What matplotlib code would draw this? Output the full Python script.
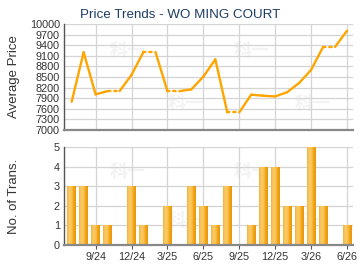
import numpy as np
import matplotlib
matplotlib.use('Agg')
import matplotlib.pyplot as plt
from matplotlib.colors import LinearSegmentedColormap

# monthly data, 7/24 .. 6/26
months = list(range(24))
price = [7800, 9200, 8010, 8100, 8100, 8560, 9210, 9210, 8100, 8100,
         8150, 8510, 9000, 7500, 7500, 8000, 7970, 7950, 8070, 8330,
         8700, 9350, 9350, 9810]
trans = [3, 3, 1, 1, 0, 3, 1, 0, 2, 0, 3, 2, 1, 3, 0, 1, 4, 4, 2, 2, 5, 2, 0, 1]
tick_pos = [2, 5, 8, 11, 14, 17, 20, 23]
tick_labels = ['9/24', '12/24', '3/25', '6/25', '9/25', '12/25', '3/26', '6/26']
price_ticks = list(range(7000, 10001, 300))

plt.rcParams['font.family'] = ['Liberation Sans', 'DejaVu Sans']
grid_c = '#d4d4d4'
txt_c = '#333333'
line_c = '#FFA500'

fig = plt.figure(figsize=(3.6, 2.7), dpi=100)
W, H = 360, 270
ax1 = fig.add_axes([64 / W, 1 - 130 / H, 289 / W, 106 / H])
ax2 = fig.add_axes([64 / W, 1 - 245 / H, 289 / W, 98 / H])
xlim = (-0.64, 23.5)

for ax in (ax1, ax2):
    ax.set_xlim(*xlim)
    for s in ('top', 'right'):
        ax.spines[s].set_visible(False)
    ax.spines['left'].set_color('#555555')
    ax.spines['left'].set_linewidth(1.0)
    ax.spines['bottom'].set_color('#888888')
    ax.spines['bottom'].set_linewidth(1.6)
    ax.set_xticks(tick_pos)
    ax.grid(True, color=grid_c, linewidth=0.9)
    ax.set_axisbelow(True)
    ax.tick_params(axis='y', length=0, pad=3, labelsize=7.8, labelcolor=txt_c)
    ax.tick_params(axis='x', length=3, width=0.8, color='#555555',
                   labelsize=7.8, labelcolor=txt_c, pad=2)

# watermark
for ax in (ax1, ax2):
    for fx, fy in ((0.22, 0.75), (0.65, 0.75), (0.42, 0.25), (0.86, 0.25)):
        ax.text(fx, fy, '科一', transform=ax.transAxes, fontsize=13,
                color='#f3f3f3', fontweight='bold', ha='center', va='center',
                family=['Noto Sans CJK SC'], zorder=0.5)

# price line
for i in range(len(months) - 1):
    ls = ':' if trans[i + 1] == 0 else '-'
    ax1.plot(months[i:i + 2], price[i:i + 2], color=line_c, linewidth=1.7,
             linestyle=ls, solid_capstyle='round', dash_capstyle='round', zorder=3)
ax1.set_ylim(7000, 10000)
ax1.set_yticks(price_ticks)
ax1.tick_params(axis='x', labelbottom=False, length=0)
ax1.set_ylabel('Average Price', fontsize=9.5, color=txt_c)
ax1.yaxis.set_label_coords(-44 / 289, 0.5)

# transactions
cmap = LinearSegmentedColormap.from_list(
    'bar', ['#F3B23A', '#FCCB66', '#FAC45A', '#F2A41A', '#E89800'])
grad = np.linspace(0, 1, 64).reshape(1, -1)
bars = ax2.bar(months, trans, width=0.75, color='#F7B840', edgecolor='none', zorder=2)
for b in bars:
    if b.get_height() == 0:
        continue
    im = ax2.imshow(grad, cmap=cmap, aspect='auto', zorder=2.5,
                    extent=[b.get_x(), b.get_x() + b.get_width(), 0, b.get_height()])
    im.set_clip_path(b)
ax2.set_xlim(*xlim)
ax2.set_ylim(0, 5)
ax2.set_yticks(range(6))
ax2.set_xticklabels(tick_labels)
ax2.set_ylabel('No. of Trans.', fontsize=9.5, color=txt_c)
ax2.yaxis.set_label_coords(-44 / 289, 0.5)

fig.text(180 / W, 1 - 15 / H, 'Price Trends - WO MING COURT', fontsize=9.6,
         color='#1c3c64', ha='center', va='center')

fig.savefig('out.png', dpi=100)
